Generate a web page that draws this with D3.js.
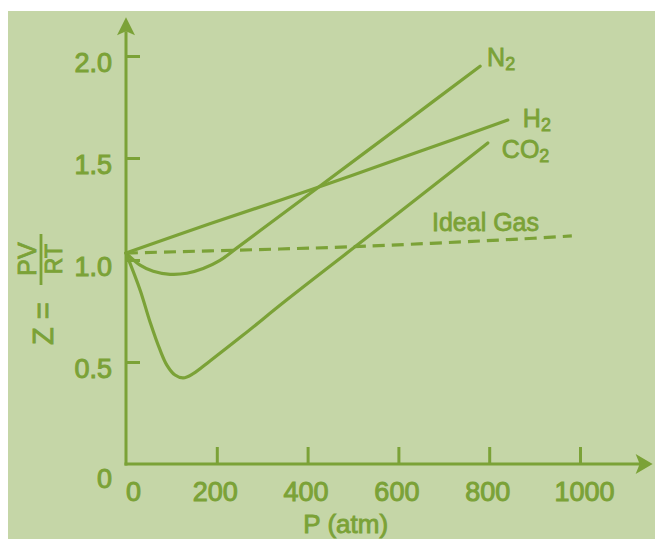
<!DOCTYPE html>
<html><head><meta charset="utf-8">
<script src="https://cdn.jsdelivr.net/npm/d3@7"></script>
<style>html,body{margin:0;padding:0;background:#fff;overflow:hidden}</style>
</head><body>
<svg id="c" width="655" height="539"></svg>
<script>
// ---- data ----
const pressureTicks = [0, 200, 400, 600, 800, 1000];
const zTicks = [0, 0.5, 1.0, 1.5, 2.0];

const n2P = [0, 31, 60, 97, 134, 170, 207, 240, 295, 412, 604, 780];
const n2Z = [1.034, 0.975, 0.945, 0.930, 0.935, 0.958, 0.998, 1.052, 1.143, 1.337, 1.656, 1.950];

const h2P = [0, 183, 412, 643, 841];
const h2Z = [1.034, 1.176, 1.348, 1.529, 1.686];

const co2P = [0, 31, 53, 75, 90, 108, 126, 148, 185, 258, 355, 515, 648, 797];
const co2Z = [1.034, 0.853, 0.696, 0.559, 0.485, 0.436, 0.422, 0.443, 0.505, 0.632, 0.806, 1.083, 1.314, 1.574];

const idealP = [0, 339, 487, 868, 982];
const idealZ = [1.034, 1.054, 1.064, 1.103, 1.118];

const gasNames = ["N", "H", "CO"];
const gasSub = ["2", "2", "2"];
const idealLabel = "Ideal Gas";
const xTitle = "P (atm)";

// ---- style ----
const BG = "#c5d6a7";
const INK = "#7ba237";
const FONT = "'Liberation Sans', Arial, sans-serif";

const svg = d3.select("#c");
svg.append("rect").attr("x", 0).attr("y", 0).attr("width", 655).attr("height", 539).attr("fill", "#ffffff");
svg.append("rect").attr("x", 8).attr("y", 11).attr("width", 647).attr("height", 528).attr("fill", BG);

const x = d3.scaleLinear().domain([0, 1000]).range([126, 580]);
const y = d3.scaleLinear().domain([0, 2]).range([464, 56]);

const g = svg.append("g");

// axes lines with arrows
const xEnd = 1160, yTop = 2.19;
g.append("line").attr("x1", x(0)).attr("y1", y(0) + 1.5).attr("x2", x(0)).attr("y2", y(yTop) + 14)
  .attr("stroke", INK).attr("stroke-width", 3);
g.append("path").attr("d", `M${x(0)},${y(yTop)} L${x(0) - 9},${y(yTop) + 18} L${x(0)},${y(yTop) + 14} L${x(0) + 9},${y(yTop) + 18}Z`)
  .attr("fill", INK);
g.append("line").attr("x1", x(0) - 1.5).attr("y1", y(0)).attr("x2", x(xEnd) - 12).attr("y2", y(0))
  .attr("stroke", INK).attr("stroke-width", 3);
g.append("path").attr("d", `M${x(xEnd)},${y(0)} L${x(xEnd) - 17},${y(0) - 10} L${x(xEnd) - 13},${y(0)} L${x(xEnd) - 17},${y(0) + 10}Z`)
  .attr("fill", INK);

const textStyle = (sel, size, sw) => sel.attr("fill", INK).attr("stroke", INK).attr("stroke-width", sw)
  .attr("font-family", FONT).attr("font-size", size);

// y axis ticks (pointing right) & labels
const yAxis = d3.axisLeft(y).tickValues(zTicks).tickSize(-14).tickPadding(14)
  .tickFormat(d => d === 0 ? "0" : d3.format(".1f")(d));
const ya = g.append("g").attr("transform", `translate(${x(0)},0)`).call(yAxis);
ya.select(".domain").remove();
ya.selectAll(".tick line").attr("stroke", INK).attr("stroke-width", 3).filter(d => d === 0).remove();
ya.selectAll(".tick text").call(textStyle, 27, 1).attr("dy", null)
  .attr("y", d => d === 0 ? 23 : 15);

// x axis ticks (pointing up) & labels
const xAxis = d3.axisBottom(x).tickValues(pressureTicks).tickSize(-17).tickPadding(0).tickFormat(d3.format("d"));
const xa = g.append("g").attr("transform", `translate(0,${y(0)})`).call(xAxis);
xa.select(".domain").remove();
xa.selectAll(".tick line").attr("stroke", INK).attr("stroke-width", 3).filter(d => d === 0).remove();
xa.selectAll(".tick text").call(textStyle, 27, 1).attr("dy", null)
  .attr("y", 37).attr("x", d => d === 0 ? 7 : (d === 1000 ? 4 : -2));

// curves
const line = d3.line().x(d => x(d[0])).y(d => y(d[1])).curve(d3.curveCatmullRom.alpha(0.5));
const zip = (a, b) => a.map((v, i) => [v, b[i]]);
const curves = [zip(n2P, n2Z), zip(h2P, h2Z), zip(co2P, co2Z)];
g.selectAll("path.gas").data(curves).join("path").attr("class", "gas")
  .attr("d", line).attr("fill", "none").attr("stroke", INK).attr("stroke-width", 3.2)
  .attr("stroke-linecap", "round").attr("stroke-linejoin", "round");

g.append("path").datum(zip(idealP, idealZ)).attr("d", line).attr("fill", "none")
  .attr("stroke", INK).attr("stroke-width", 3.2).attr("stroke-dasharray", "12,7");

// curve labels
const labelOffsets = [[7, 0], [15, 7], [14, 15]];
curves.forEach((c, i) => {
  const last = c[c.length - 1];
  const t = g.append("text").attr("x", x(last[0]) + labelOffsets[i][0]).attr("y", y(last[1]) + labelOffsets[i][1])
    .call(textStyle, 25, 0.8);
  t.append("tspan").text(gasNames[i]);
  t.append("tspan").attr("font-size", 18).attr("dy", 4).text(gasSub[i]);
});

g.append("text").attr("x", x(674)).attr("y", y(1.14)).text(idealLabel).call(textStyle, 25, 0.8);

// x title
g.append("text").attr("x", x(484)).attr("y", 533).attr("text-anchor", "middle").text(xTitle).call(textStyle, 26, 0.9);

// y title: Z = PV/RT (rotated)
const yt = g.append("g").attr("fill", INK).attr("stroke", INK).attr("stroke-width", 0.9).attr("font-family", FONT);
yt.append("text").attr("transform", "translate(53,345) rotate(-90)").attr("font-size", 29).text("Z =");
yt.append("line").attr("x1", 41).attr("x2", 41).attr("y1", 234).attr("y2", 285).attr("stroke-width", 2.8);
yt.append("text").attr("transform", "translate(36,259) rotate(-90)").attr("text-anchor", "middle").attr("font-size", 25).text("PV");
yt.append("text").attr("transform", "translate(62,259) rotate(-90)").attr("text-anchor", "middle").attr("font-size", 23).text("RT");
</script>
</body></html>
